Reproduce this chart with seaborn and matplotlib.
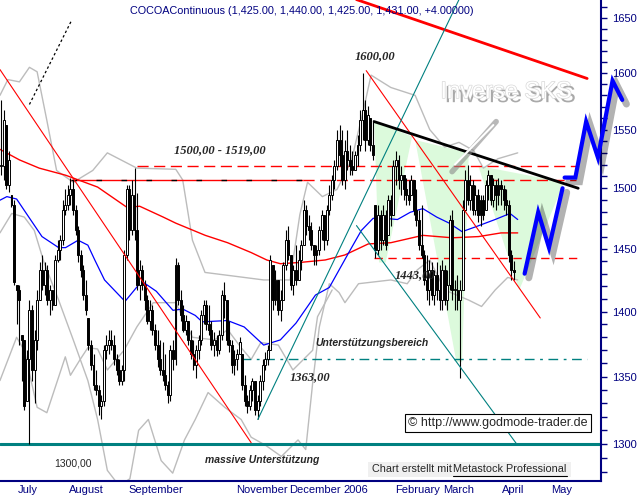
import numpy as np
import pandas as pd
import matplotlib
matplotlib.use("Agg")
import matplotlib.pyplot as plt
import matplotlib.patheffects as pe
import matplotlib.transforms as mtransforms
from matplotlib.lines import Line2D
from matplotlib.ticker import FixedLocator, NullFormatter, FuncFormatter
import seaborn as sns

sns.set_style("white")
plt.rcParams["font.family"] = ["Liberation Sans", "DejaVu Sans"]

NAVY = "#000080"
TEAL = "#008080"

# trading days (weekends and exchange holidays skipped, like Metastock)
holidays = ["2005-07-04", "2005-09-05", "2005-11-24", "2005-12-26",
            "2006-01-02", "2006-01-16", "2006-02-20", "2006-04-14"]
days = pd.bdate_range("2005-06-23", "2006-05-31", freq="C", holidays=holidays)
month_labels = ["July", "August", "September", "", "November", "December",
                "2006", "February", "March", "April", "May"]

# daily candles 23.06.2005 - 10.04.2006
highs = [1576, 1567, 1554, 1532, 1494, 1490, 1421, 1421, 1382, 1378,
         1370, 1409, 1405, 1386, 1417, 1439, 1445, 1439, 1437, 1421,
         1417, 1445, 1457, 1461, 1490, 1499, 1503, 1509, 1507, 1486,
         1469, 1449, 1437, 1425, 1395, 1378, 1367, 1355, 1344, 1336,
         1374, 1382, 1386, 1386, 1382, 1367, 1363, 1359, 1449, 1503,
         1503, 1507, 1517, 1496, 1441, 1437, 1425, 1413, 1409, 1405,
         1390, 1386, 1378, 1376, 1367, 1347, 1374, 1378, 1443, 1439,
         1417, 1405, 1397, 1393, 1386, 1378, 1374, 1382, 1401, 1409,
         1409, 1405, 1393, 1384, 1382, 1386, 1417, 1423, 1409, 1393,
         1378, 1370, 1371, 1380, 1367, 1351, 1336, 1344, 1349, 1347,
         1336, 1351, 1363, 1369, 1374, 1445, 1437, 1433, 1425, 1417,
         1439, 1465, 1469, 1445, 1437, 1453, 1449, 1457, 1490, 1486,
         1478, 1472, 1453, 1453, 1469, 1482, 1478, 1486, 1503, 1511,
         1524, 1550, 1554, 1550, 1541, 1550, 1537, 1532, 1532, 1545,
         1567, 1600, 1576, 1571, 1560, 1558, 1486, 1486, 1482, 1486,
         1482, 1494, 1494, 1524, 1532, 1528, 1519, 1511, 1509, 1507,
         1511, 1507, 1499, 1482, 1486, 1449, 1445, 1441, 1439, 1433,
         1439, 1437, 1441, 1437, 1433, 1478, 1482, 1425, 1429, 1425,
         1490, 1515, 1520, 1511, 1507, 1503, 1499, 1494, 1494, 1507,
         1515, 1511, 1509, 1507, 1509, 1507, 1503, 1499, 1490, 1449,
         1440]
lows = [1511, 1507, 1499, 1497, 1484, 1421, 1390, 1374, 1347, 1325,
        1332, 1300, 1347, 1330, 1370, 1409, 1417, 1413, 1405, 1397,
        1401, 1405, 1439, 1441, 1453, 1478, 1482, 1486, 1478, 1461,
        1439, 1427, 1409, 1397, 1370, 1355, 1340, 1336, 1321, 1318,
        1328, 1363, 1367, 1370, 1359, 1351, 1344, 1344, 1347, 1441,
        1457, 1461, 1457, 1417, 1409, 1417, 1401, 1390, 1386, 1382,
        1370, 1357, 1351, 1347, 1340, 1330, 1332, 1355, 1359, 1405,
        1393, 1384, 1382, 1374, 1363, 1355, 1349, 1363, 1374, 1390,
        1386, 1382, 1370, 1366, 1366, 1367, 1378, 1395, 1374, 1369,
        1353, 1351, 1355, 1367, 1340, 1328, 1323, 1325, 1332, 1321,
        1318, 1328, 1340, 1355, 1359, 1370, 1401, 1405, 1397, 1393,
        1409, 1433, 1441, 1417, 1413, 1421, 1425, 1433, 1453, 1461,
        1457, 1449, 1437, 1437, 1445, 1457, 1449, 1453, 1478, 1490,
        1499, 1515, 1519, 1503, 1499, 1515, 1511, 1511, 1515, 1519,
        1532, 1541, 1532, 1537, 1532, 1524, 1443, 1445, 1449, 1453,
        1449, 1461, 1469, 1478, 1503, 1499, 1494, 1490, 1486, 1486,
        1494, 1478, 1469, 1449, 1443, 1421, 1409, 1405, 1409, 1405,
        1409, 1401, 1401, 1405, 1401, 1417, 1409, 1401, 1401, 1349,
        1417, 1482, 1486, 1482, 1478, 1478, 1472, 1469, 1474, 1482,
        1490, 1486, 1484, 1482, 1486, 1486, 1482, 1478, 1439, 1425,
        1425]
closes = [1519, 1558, 1503, 1524, 1486, 1423, 1417, 1409, 1378, 1328,
          1363, 1401, 1355, 1378, 1409, 1433, 1421, 1433, 1409, 1417,
          1405, 1441, 1449, 1457, 1482, 1486, 1494, 1499, 1482, 1465,
          1445, 1433, 1413, 1401, 1374, 1359, 1344, 1340, 1328, 1332,
          1370, 1374, 1378, 1374, 1363, 1355, 1347, 1355, 1445, 1499,
          1465, 1494, 1465, 1421, 1433, 1421, 1409, 1393, 1401, 1386,
          1374, 1363, 1355, 1351, 1344, 1336, 1370, 1363, 1437, 1409,
          1397, 1386, 1393, 1378, 1367, 1359, 1370, 1378, 1397, 1405,
          1390, 1386, 1374, 1378, 1370, 1382, 1413, 1409, 1378, 1374,
          1359, 1363, 1367, 1376, 1344, 1332, 1328, 1340, 1347, 1325,
          1332, 1347, 1359, 1363, 1370, 1441, 1409, 1425, 1401, 1409,
          1437, 1457, 1445, 1421, 1433, 1425, 1441, 1453, 1482, 1469,
          1465, 1453, 1445, 1449, 1465, 1478, 1457, 1482, 1494, 1507,
          1519, 1541, 1528, 1507, 1532, 1524, 1519, 1515, 1528, 1537,
          1558, 1567, 1541, 1563, 1537, 1528, 1449, 1478, 1457, 1478,
          1453, 1490, 1478, 1519, 1524, 1507, 1511, 1499, 1494, 1490,
          1507, 1482, 1474, 1453, 1445, 1425, 1417, 1433, 1413, 1429,
          1417, 1409, 1433, 1409, 1421, 1474, 1417, 1417, 1409, 1417,
          1482, 1507, 1490, 1503, 1482, 1494, 1478, 1490, 1478, 1503,
          1511, 1490, 1503, 1494, 1503, 1499, 1490, 1486, 1445, 1433,
          1431]

# indicator lines (day number, price)
ma_red_x = [-0.5, 7.1, 14.8, 25.1, 37.6, 49.1, 54.0, 63.2, 68.1, 79.6, 88.3, 97.5,
            103.6, 108.9, 116.5, 126.4, 134.0, 143.2, 152.0, 164.5, 176.0, 186.3, 195.0, 201.5]
ma_red_y = [1533, 1524, 1517, 1511, 1501, 1484, 1485, 1476, 1471, 1461, 1455, 1447,
            1441, 1438, 1439, 1441, 1445, 1454, 1455, 1461, 1459, 1460, 1463, 1463]
ma_blue_x = [-0.5, 2.2, 6.0, 9.8, 15.9, 22.4, 25.1, 30.0, 33.8, 36.5, 40.3, 48.3, 54.8,
             60.5, 67.0, 70.8, 75.7, 78.4, 88.3, 94.8, 102.4, 108.9, 115.0, 122.6, 128.0,
             135.6, 140.5, 145.1, 149.3, 154.6, 159.6, 164.5, 169.9, 174.8, 179.8, 185.1,
             192.7, 198.5, 201.5]
ma_blue_y = [1490, 1493, 1491, 1479, 1460, 1451, 1451, 1457, 1453, 1441, 1425, 1408, 1424,
             1416, 1401, 1402, 1397, 1392, 1393, 1388, 1374, 1378, 1391, 1413, 1419,
             1447, 1465, 1475, 1475, 1474, 1480, 1483, 1476, 1471, 1464, 1468,
             1474, 1479, 1474]
band_up_x = [-0.5, 2.6, 7.1, 11.0, 14.0, 17.8, 21.6, 28.1, 35.7, 41.4, 52.9, 68.1, 70.8,
             74.6, 79.5, 91.0, 102.4, 112.7, 116.5, 119.5, 125.3, 131.0, 136.7, 141.3,
             144.3, 152.0, 161.5, 167.2, 173.0, 178.6, 184.3, 188.1, 193.8, 201.5]
band_up_y = [1580, 1594, 1592, 1605, 1601, 1558, 1515, 1505, 1515, 1530, 1517, 1516, 1507,
             1457, 1431, 1428, 1425, 1425, 1478, 1505, 1493, 1499, 1524, 1567,
             1598, 1587, 1580, 1550, 1535, 1539, 1532, 1517, 1525, 1530]
band_mid_x = [-0.5, 6.0, 9.0, 14.0, 17.8, 25.0, 27.0, 30.8, 33.8, 37.6, 41.4, 47.9, 52.9,
              59.3, 68.1, 74.6, 83.3, 88.3, 93.6, 97.5, 101.3, 108.1, 113.8, 121.5, 123.4, 129.1]
band_mid_y = [1347, 1380, 1370, 1327, 1323, 1365, 1351, 1363, 1372, 1371, 1355, 1370, 1388,
              1407, 1407, 1380, 1378, 1386, 1372, 1363, 1376, 1374, 1355, 1370, 1396, 1417]
band_lo_x = [-0.5, 4.1, 9.0, 12.9, 16.7, 22.4, 28.1, 33.8, 37.6, 41.4, 46.0, 50.2, 53.6,
             57.4, 62.4, 66.9, 71.5, 75.7, 80.7, 87.2, 93.6, 97.5, 103.2, 109.3, 115.8,
             118.8, 121.5, 124.1, 128.0, 131.8, 134.1, 139.4, 152.0, 158.4, 162.3, 167.2,
             173.0, 182.4, 187.4, 192.7, 197.6, 201.5]
band_lo_y = [1463, 1479, 1476, 1465, 1439, 1409, 1378, 1347, 1318, 1281, 1270, 1275, 1310,
             1318, 1288, 1279, 1303, 1318, 1338, 1327, 1318, 1305, 1299, 1291, 1303,
             1296, 1345, 1388, 1422, 1415, 1407, 1422, 1425, 1422, 1433, 1441,
             1417, 1409, 1404, 1417, 1427, 1425]

# drawn trend lines (day number, price)
red_trend1 = ([-0.5, 97.5], [1603, 1301])
red_trend2 = ([142.4, 210.3], [1602, 1395])
red_long = ([138.6, 228.6], [1667, 1595])
teal_up = ([100.1, 178.6], [1318, 1667])
teal_down = ([138.6, 201.5], [1469, 1299])
neckline = ([145.5, 225.1], [1557, 1500])
dotted = ([11.0, 27.3], [1572, 1647])
projection1 = ([204.2, 209.5, 213.7, 219.0], [1430, 1480, 1451, 1500])
projection2 = ([219.8, 224.0, 228.2, 232.8, 238.5, 242.3], [1509, 1509, 1557, 1526, 1593, 1576])
shoulder_l = ([145.5, 160.3, 150.0, 147.4], [1557, 1544, 1439, 1439])
head = ([161.5, 182.4, 179.8, 177.6], [1541, 1530, 1361, 1361])
shoulder_r = ([186.1, 219.6, 202.1], [1519, 1505, 1417])

fig = plt.figure(figsize=(6.44, 4.98), dpi=100)
ax = fig.add_axes([0, 17 / 498, 601 / 644, 481 / 498])
ax.set_yscale("log")

# green SKS areas
for px, py in [shoulder_l, head, shoulder_r]:
    ax.fill(px, py, color="#dcfadc", lw=0, zorder=0.5)

# bands and averages
for bx, by in [(band_up_x, band_up_y), (band_mid_x, band_mid_y), (band_lo_x, band_lo_y)]:
    sns.lineplot(x=bx, y=by, ax=ax, color="#bcbcbc", lw=1, sort=False, estimator=None, zorder=1)
sns.lineplot(x=ma_red_x, y=ma_red_y, ax=ax, color="red", lw=1, sort=False, estimator=None, zorder=1.5)
sns.lineplot(x=ma_blue_x, y=ma_blue_y, ax=ax, color="blue", lw=0.9, sort=False, estimator=None, zorder=1.5)

# horizontal levels
ax.hlines(1519, 52.9, 224.4, color="red", lw=1, linestyles=(0, (8, 4)), zorder=1.6)
ax.hlines(1507, 27.3, 117.7, color="red", lw=1, zorder=1.6)
ax.hlines(1507, 27.3, 117.7, color="black", lw=1, linestyles=(0, (4, 14)), zorder=1.7)
ax.hlines(1507, 117.7, 224.4, color="red", lw=1, linestyles=(0, (8, 4)), zorder=1.6)
ax.hlines(1443, 145.5, 226.0, color="red", lw=1, linestyles=(0, (6, 4)), zorder=1.6)
ax.hlines(1363, 93.7, 228.6, color=TEAL, lw=1, linestyles=(0, (7, 4, 2, 4)), zorder=1.6)
ax.axhline(1300, color=TEAL, lw=2.2, zorder=1.6)

# candles
x = np.arange(len(closes))
c = np.array(closes, float)
h = np.array(highs, float)
l = np.array(lows, float)
o = np.clip(np.r_[c[0], c[:-1]], l, h)
up = c >= o
bottom = np.minimum(o, c)
height = np.maximum(np.abs(c - o), 0.8)
ax.vlines(x, l, h, color="black", lw=0.8, zorder=2.9)
ax.bar(x, height, bottom=bottom, width=0.75, color=np.where(up, "white", "black"),
       edgecolor="black", linewidth=0.7, zorder=3)

# trend lines
ax.plot(*red_trend1, color="red", lw=0.8, zorder=4)
ax.plot(*red_trend2, color="red", lw=0.8, zorder=4)
ax.plot(*red_long, color="red", lw=2, zorder=4)
ax.plot(*teal_up, color=TEAL, lw=0.8, zorder=4)
ax.plot(*teal_down, color=TEAL, lw=0.8, zorder=4)
ax.plot(*neckline, color="black", lw=2, zorder=4)
ax.plot(*dotted, color="black", lw=0.9, ls=(0, (2, 2)), zorder=4)

shadow = [pe.SimpleLineShadow(offset=(3, -3), shadow_color="black", alpha=0.3, linewidth=5), pe.Normal()]
for px, py in [projection1, projection2]:
    ax.plot(px, py, color="#0000ff", lw=3, clip_on=False, zorder=6,
            solid_joinstyle="miter", path_effects=shadow)

# arrow of the SKS label
ax.plot([175.9, 193.1], [1514, 1557], color="#8a8a8a", lw=4, alpha=0.6, zorder=5,
        solid_capstyle="round")
ax.plot([177.0, 192.0], [1520, 1554], color="white", lw=1.5, zorder=5)

# axes
ax.set_xlim(-0.48, 228.6)
ax.set_ylim(1273.4, 1666.6)
ax.set_xlabel("")
ax.set_ylabel("")
for s in ["left", "top"]:
    ax.spines[s].set_visible(False)
for s in ["right", "bottom"]:
    ax.spines[s].set_color(NAVY)
    ax.spines[s].set_linewidth(1.5)

ax.yaxis.tick_right()
ax.yaxis.set_major_locator(FixedLocator(list(range(1300, 1651, 50))))
ax.yaxis.set_major_formatter(FuncFormatter(lambda v, p: f"{v:.0f}"))
ax.yaxis.set_minor_locator(FixedLocator([v for v in range(1280, 1661, 10) if v % 50]))
ax.yaxis.set_minor_formatter(NullFormatter())
ax.tick_params(axis="y", which="both", length=4.3, width=1, colors=NAVY, labelsize=8, pad=3.6)

dser = pd.Series(days)
month_pos = list(np.flatnonzero(dser.dt.month.diff().fillna(0) != 0))
week_pos = list(np.flatnonzero(dser.dt.weekday.diff().fillna(0) < 0))
ax.set_xticks(month_pos)
ax.set_xticks(week_pos, minor=True)
ax.tick_params(axis="x", which="major", length=11.5, width=1, colors=NAVY, labelbottom=False)
ax.tick_params(axis="x", which="minor", length=3.6, width=1, colors=NAVY, labelbottom=False)
trans = mtransforms.blended_transform_factory(ax.transData, ax.transAxes)
for p, lab in zip(month_pos, month_labels):
    ax.text(p + 0.5, -0.019, lab, transform=trans, ha="left", va="center",
            color=NAVY, fontsize=8, clip_on=False)

# annotations
def fx(px):
    return px / 644


def fy(py):
    return 1 - py / 498


fig.text(fx(130), fy(11), "COCOAContinuous (1,425.00, 1,440.00, 1,425.00, 1,431.00, +4.00000)",
         color=NAVY, fontsize=7.8, ha="left", va="center")
serif = dict(family=["Liberation Serif", "DejaVu Serif"], weight="bold", style="italic", fontsize=9)
fig.text(fx(375), fy(56), "1600,00", ha="center", va="center", **serif)
fig.text(fx(220), fy(150), "1500,00 - 1519,00", ha="center", va="center", **serif)
fig.text(fx(415), fy(275), "1443,00", ha="center", va="center", **serif)
fig.text(fx(310), fy(377), "1363,00", ha="center", va="center", **serif)
fig.text(fx(372), fy(343), "Unterstützungsbereich", ha="center", va="center",
         weight="bold", style="italic", fontsize=7.5)
fig.text(fx(262), fy(460), "massive Unterstützung", ha="center", va="center",
         weight="bold", style="italic", fontsize=7.5)
fig.text(fx(73), fy(463), "1300,00", ha="center", va="center", fontsize=7.5)

fig.text(fx(498), fy(423), "© http://www.godmode-trader.de", ha="center", va="center", fontsize=9,
         bbox=dict(boxstyle="square,pad=0.25", fc="white", ec="black", lw=0.8), zorder=7)
fig.patches.append(plt.Rectangle((fx(368), fy(477)), fx(203), 15 / 498, transform=fig.transFigure,
                                 fc="#f0f0f0", ec="none", zorder=6))
fig.text(fx(372), fy(469), "Chart erstellt mit", ha="left", va="center", fontsize=7.8, zorder=7)
fig.text(fx(453), fy(469), "Metastock Professional", ha="left", va="center", fontsize=7.8, zorder=7)
fig.add_artist(Line2D([fx(453), fx(567)], [fy(476), fy(476)], color="black", lw=0.8,
                      transform=fig.transFigure, zorder=7))

fig.text(fx(506), fy(92), "Inverse SKS", ha="center", va="center", fontsize=17, color="white",
         zorder=7, path_effects=[pe.SimplePatchShadow(offset=(3, -3), shadow_rgbFace="#707070", alpha=0.6),
                                 pe.Stroke(linewidth=1, foreground="#d8d8d8"), pe.Normal()])

fig.savefig("out.png", dpi=100)
